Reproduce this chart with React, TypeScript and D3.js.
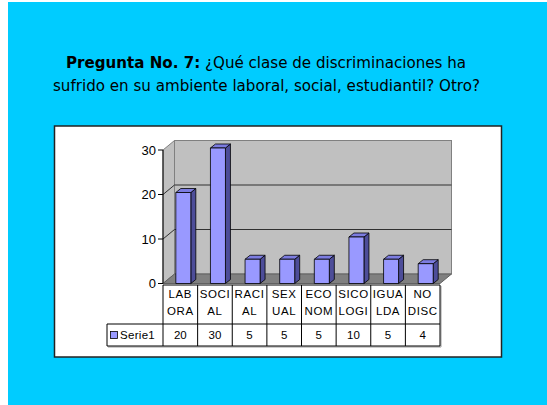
import * as d3 from 'd3';
import { useEffect, useRef } from 'react';

const categories = ['LABORA', 'SOCIAL', 'RACIAL', 'SEXUAL', 'ECONOM', 'SICOLOGI', 'IGUALDA', 'NODISC'];
const catLines = [
  ['LAB', 'ORA'],
  ['SOCI', 'AL'],
  ['RACI', 'AL'],
  ['SEX', 'UAL'],
  ['ECO', 'NOM'],
  ['SICO', 'LOGI'],
  ['IGUA', 'LDA'],
  ['NO', 'DISC'],
];
const serie1 = [20, 30, 5, 5, 5, 10, 5, 4];
const seriesName = 'Serie1';
const yTicks = [0, 10, 20, 30];

const W = 547;
const H = 405;

const App = () => {
  const ref = useRef<SVGSVGElement>(null);

  useEffect(() => {
    const svg = d3.select(ref.current);
    svg.selectAll('*').remove();

    // page background
    svg.append('rect').attr('width', W).attr('height', H).attr('fill', '#fff');
    svg.append('rect').attr('x', 8).attr('y', 2).attr('width', W - 8).attr('height', H - 2).attr('fill', '#00ccff');

    // title
    const title = svg
      .append('text')
      .attr('x', 266)
      .attr('y', 68)
      .attr('text-anchor', 'middle')
      .style('font-family', 'DejaVu Sans, sans-serif')
      .style('font-size', '15.5px')
      .attr('textLength', 400)
      .attr('lengthAdjust', 'spacingAndGlyphs')
      .attr('fill', '#000');
    title.append('tspan').attr('font-weight', 'bold').text('Pregunta No. 7:');
    title.append('tspan').text(' ¿Qué clase de discriminaciones ha');
    svg
      .append('text')
      .attr('x', 266.5)
      .attr('y', 91)
      .attr('text-anchor', 'middle')
      .style('font-family', 'DejaVu Sans, sans-serif')
      .style('font-size', '15.5px')
      .attr('textLength', 427)
      .attr('lengthAdjust', 'spacingAndGlyphs')
      .text('sufrido en su ambiente laboral, social, estudiantil? Otro?');

    // chart box
    svg
      .append('rect')
      .attr('x', 54.5)
      .attr('y', 126)
      .attr('width', 447)
      .attr('height', 231)
      .attr('fill', '#fff')
      .attr('stroke', '#222')
      .attr('stroke-width', 1.5);

    const x = d3.scaleBand().domain(categories).range([163, 440]);
    const y = d3.scaleLinear().domain([0, 30]).range([283.5, 150]);
    const dx = 11.5;
    const dy = -9.5;
    const x0 = x.range()[0];
    const x1 = x.range()[1];
    const yb = y(0);
    const yt = y(30);

    const wallFill = '#c0c0c0';
    const wallStroke = '#808080';

    // back wall
    svg
      .append('rect')
      .attr('x', x0 + dx)
      .attr('y', yt + dy)
      .attr('width', x1 - x0)
      .attr('height', yb - yt)
      .attr('fill', wallFill)
      .attr('stroke', wallStroke);
    // side wall
    svg
      .append('path')
      .attr('d', `M${x0},${yb}L${x0},${yt}L${x0 + dx},${yt + dy}L${x0 + dx},${yb + dy}Z`)
      .attr('fill', wallFill)
      .attr('stroke', wallStroke);
    // floor
    svg
      .append('path')
      .attr('d', `M${x0},${yb}L${x0 + dx},${yb + dy}L${x1 + dx},${yb + dy}L${x1},${yb}Z`)
      .attr('fill', '#808080')
      .attr('stroke', '#606060');

    // gridlines
    yTicks
      .filter((t) => t > 0 && t < 30)
      .forEach((t) => {
        svg
          .append('path')
          .attr('d', `M${x0},${y(t)}L${x0 + dx},${y(t) + dy}L${x1 + dx},${y(t) + dy}`)
          .attr('fill', 'none')
          .attr('stroke', '#303030')
          .attr('stroke-width', 1);
      });

    // y axis
    svg.append('line').attr('x1', x0).attr('x2', x0).attr('y1', yt).attr('y2', yb).attr('stroke', '#000');
    const ax = svg.append('g');
    yTicks.forEach((t) => {
      ax.append('line').attr('x1', x0 - 5).attr('x2', x0).attr('y1', y(t)).attr('y2', y(t)).attr('stroke', '#000');
      ax.append('text')
        .attr('x', x0 - 7)
        .attr('y', y(t) + 4.5)
        .attr('text-anchor', 'end')
        .style('font-family', 'Liberation Sans, Arial, sans-serif')
        .style('font-size', '13px')
        .text(t);
    });

    // bars
    const bw = 15;
    const bdx = 5;
    const bdy = -4;
    const fx = 3;
    const fy = -2;
    const bars = svg.append('g');
    categories.forEach((c, i) => {
      const cx = (x(c) as number) + x.bandwidth() / 2 + fx;
      const left = cx - bw / 2;
      const right = cx + bw / 2;
      const top = y(serie1[i]) + fy;
      const bot = yb;
      const g = bars.append('g').attr('stroke', '#000').attr('stroke-width', 0.8).attr('stroke-linejoin', 'round');
      g.append('path')
        .attr('d', `M${right},${bot}L${right},${top}L${right + bdx},${top + bdy}L${right + bdx},${bot + bdy}Z`)
        .attr('fill', '#4d4d99');
      g.append('path')
        .attr('d', `M${left},${top}L${left + bdx},${top + bdy}L${right + bdx},${top + bdy}L${right},${top}Z`)
        .attr('fill', '#7c7ce0');
      g.append('rect')
        .attr('x', left)
        .attr('y', top)
        .attr('width', bw)
        .attr('height', bot - top)
        .attr('fill', '#9999ff');
    });

    // data table
    const rowTop = yb + 1.5;
    const rowMid = 324;
    const rowBot = 346;
    const legLeft = 107;
    const tbl = svg.append('g').style('font-family', 'Liberation Sans, Arial, sans-serif').style('font-size', '11.5px');
    // shadow
    tbl.append('path')
      .attr('d', `M${legLeft + 1},${rowBot + 1}L${x1 + 1},${rowBot + 1}L${x1 + 1},${rowTop + 1}`)
      .attr('fill', 'none')
      .attr('stroke', '#999');
    tbl.append('rect').attr('x', x0).attr('y', rowTop).attr('width', x1 - x0).attr('height', rowBot - rowTop).attr('fill', '#fff');
    tbl.append('rect').attr('x', legLeft).attr('y', rowMid).attr('width', x0 - legLeft).attr('height', rowBot - rowMid).attr('fill', '#fff');
    const lineAttrs = { stroke: '#000', 'stroke-width': 1 };
    const ln = (a: number, b: number, c: number, d: number) =>
      tbl.append('line').attr('x1', a).attr('y1', b).attr('x2', c).attr('y2', d).attr('stroke', lineAttrs.stroke).attr('stroke-width', lineAttrs['stroke-width']);
    ln(x0, rowTop, x1, rowTop);
    ln(legLeft, rowMid, x1, rowMid);
    ln(legLeft, rowBot, x1, rowBot);
    ln(legLeft, rowMid, legLeft, rowBot);
    categories.forEach((c) => ln(x(c) as number, rowTop, x(c) as number, rowBot));
    ln(x1, rowTop, x1, rowBot);

    categories.forEach((c, i) => {
      const cx = (x(c) as number) + x.bandwidth() / 2;
      catLines[i].forEach((l, k) => {
        tbl.append('text')
          .attr('x', cx)
          .attr('y', rowTop + 13 + k * 17)
          .attr('text-anchor', 'middle')
          .style('letter-spacing', '0.6px')
          .text(l);
      });
      tbl.append('text')
        .attr('x', cx)
        .attr('y', rowMid + 15)
        .attr('text-anchor', 'middle')
        .text(serie1[i]);
    });
    tbl.append('rect').attr('x', 110.5).attr('y', 331.5).attr('width', 7).attr('height', 7).attr('fill', '#9999ff').attr('stroke', '#000').attr('stroke-width', 0.8);
    tbl.append('text').attr('x', 120).attr('y', rowMid + 15).style('letter-spacing', '0.3px').text(seriesName);
  }, []);

  return (
    <svg
      ref={ref}
      width={W}
      height={H}
      style={{ position: 'absolute', left: 0, top: 0, display: 'block' }}
    />
  );
};

export default App;
